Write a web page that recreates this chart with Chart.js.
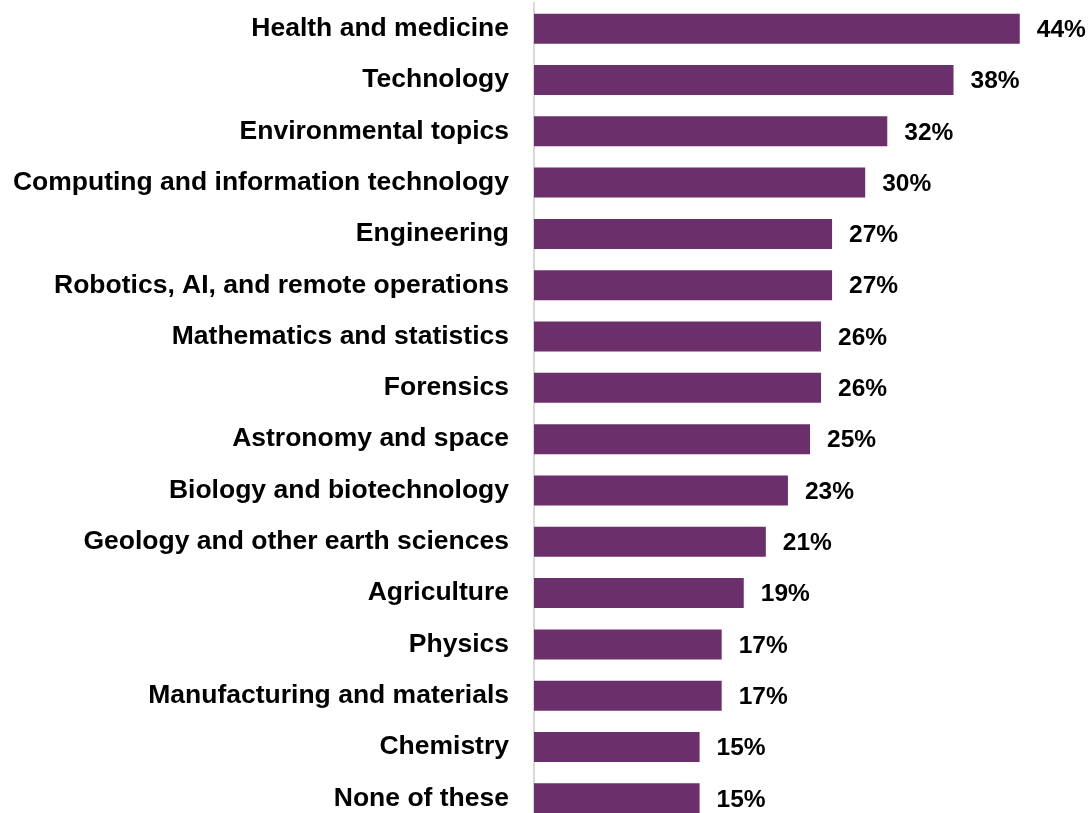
<!DOCTYPE html>
<html>
<head>
<meta charset="utf-8">
<title>STEM topics of interest</title>
<script src="https://cdn.jsdelivr.net/npm/chart.js@4/dist/chart.umd.min.js"></script>
<style>
  html, body { margin: 0; padding: 0; background: #ffffff; overflow: hidden; }
  #wrap { position: relative; width: 1092px; height: 826px; }
</style>
</head>
<body>
<div id="wrap"><canvas id="chart" width="1092" height="826"></canvas></div>
<script>
// Topics shown on the vertical axis, top to bottom
const topics = [
  'Health and medicine',
  'Technology',
  'Environmental topics',
  'Computing and information technology',
  'Engineering',
  'Robotics, AI, and remote operations',
  'Mathematics and statistics',
  'Forensics',
  'Astronomy and space',
  'Biology and biotechnology',
  'Geology and other earth sciences',
  'Agriculture',
  'Physics',
  'Manufacturing and materials',
  'Chemistry',
  'None of these'
];

// Share of respondents interested in each topic (%)
const shares = [44, 38, 32, 30, 27, 27, 26, 26, 25, 23, 21, 19, 17, 17, 15, 15];

const BAR_COLOR = '#6B2F6B';
const FONT_FAMILY = '"Liberation Sans", Arial, Helvetica, sans-serif';

// Writes "NN%" just past the end of each bar
const valueLabels = {
  id: 'valueLabels',
  afterDatasetsDraw(chart) {
    const ctx = chart.ctx;
    const meta = chart.getDatasetMeta(0);
    ctx.save();
    ctx.font = 'bold 24.5px ' + FONT_FAMILY;
    ctx.fillStyle = '#000000';
    ctx.textAlign = 'left';
    ctx.textBaseline = 'middle';
    meta.data.forEach((bar, i) => {
      ctx.fillText(shares[i] + '%', bar.x + 17, bar.y + 1.5);
    });
    ctx.restore();
  }
};

new Chart(document.getElementById('chart'), {
  type: 'bar',
  data: {
    labels: topics,
    datasets: [{
      data: shares,
      backgroundColor: BAR_COLOR,
      borderWidth: 0,
      barPercentage: 0.584,
      categoryPercentage: 1.0
    }]
  },
  options: {
    indexAxis: 'y',
    responsive: false,
    animation: false,
    layout: { padding: { top: 3, right: 6, bottom: 2, left: 0 } },
    plugins: {
      legend: { display: false },
      tooltip: { enabled: false }
    },
    scales: {
      x: {
        display: false,
        min: 0,
        max: 50
      },
      y: {
        grid: { display: false, drawTicks: false },
        border: { display: true, color: '#D9D9D9', width: 2 },
        ticks: {
          color: '#000000',
          padding: 25,
          font: { family: FONT_FAMILY, size: 26.5, weight: 'bold' }
        },
        afterFit(scale) {
          // fixed label column; no extra room above/below the bars
          scale.width = 534;
          scale.paddingTop = 0;
          scale.paddingBottom = 0;
        }
      }
    }
  },
  plugins: [valueLabels]
});
</script>
</body>
</html>
